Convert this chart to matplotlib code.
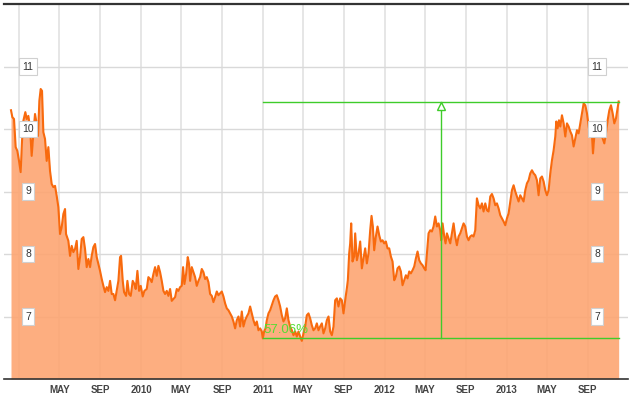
import numpy as np
import matplotlib
matplotlib.use('Agg')
import matplotlib.pyplot as plt
import matplotlib.dates as mdates
import matplotlib.transforms as mtransforms

START = np.datetime64('2009-01-01')

# days after START and closing price
days = [
    -25, -21, -16, -11, -6, -1, 4, 8, 12, 18, 22, 27, 32, 37, 42, 47, 52, 56, 60, 64,
    68, 72, 77, 82, 87, 92, 97, 102, 107, 112, 117, 122, 127, 132, 137, 140, 147, 152, 157, 162,
    167, 172, 177, 182, 187, 192, 197, 202, 207, 212, 217, 222, 227, 232, 237, 242, 247, 252, 257, 262,
    267, 272, 277, 282, 287, 292, 297, 302, 305, 310, 314, 320, 324, 329, 334, 340, 345, 349, 354, 359,
    364, 370, 375, 382, 387, 392, 397, 402, 407, 412, 417, 422, 427, 432, 437, 442, 447, 452, 457, 462,
    467, 472, 477, 482, 487, 491, 495, 500, 505, 509, 512, 517, 522, 527, 532, 537, 542, 547, 552, 557,
    562, 567, 572, 577, 582, 587, 592, 597, 602, 607, 612, 617, 622, 627, 632, 637, 642, 647, 652, 657,
    662, 667, 672, 677, 682, 687, 692, 697, 702, 707, 712, 717, 722, 727, 730, 734, 738, 742, 747, 752,
    757, 762, 767, 772, 777, 782, 787, 792, 797, 802, 807, 812, 817, 822, 827, 832, 837, 842, 847, 852,
    857, 862, 867, 872, 877, 882, 887, 892, 897, 902, 907, 912, 917, 922, 927, 932, 937, 942, 947, 952,
    957, 962, 967, 972, 977, 982, 985, 989, 992, 995, 999, 1004, 1007, 1012, 1017, 1022, 1027, 1032, 1037, 1042,
    1047, 1052, 1056, 1060, 1064, 1069, 1074, 1079, 1084, 1089, 1094, 1099, 1104, 1109, 1114, 1119, 1124, 1129, 1134, 1139,
    1144, 1149, 1154, 1159, 1164, 1169, 1174, 1179, 1184, 1189, 1194, 1199, 1204, 1209, 1214, 1218, 1222, 1227, 1232, 1237,
    1242, 1247, 1252, 1257, 1262, 1265, 1269, 1274, 1278, 1282, 1287, 1292, 1297, 1302, 1307, 1312, 1317, 1322, 1327, 1332,
    1337, 1342, 1347, 1352, 1357, 1362, 1367, 1372, 1377, 1382, 1387, 1392, 1397, 1402, 1407, 1412, 1417, 1422, 1427, 1432,
    1437, 1442, 1447, 1452, 1457, 1462, 1467, 1472, 1477, 1482, 1487, 1492, 1497, 1502, 1507, 1512, 1517, 1522, 1527, 1532,
    1537, 1542, 1547, 1552, 1557, 1562, 1567, 1572, 1577, 1582, 1587, 1592, 1597, 1602, 1607, 1610, 1614, 1618, 1622, 1627,
    1632, 1637, 1642, 1647, 1652, 1657, 1662, 1667, 1672, 1677, 1682, 1687, 1692, 1697, 1702, 1707, 1712, 1717, 1720, 1724,
    1729, 1734, 1739, 1744, 1749, 1754, 1759, 1764, 1769, 1774, 1779, 1784, 1789, 1793, 1797,
]
closes = [
    10.30, 10.19, 10.16, 9.71, 9.65, 9.49, 9.31, 9.81, 10.13, 10.27, 10.16, 10.21, 10.03, 9.57, 9.92, 10.24, 10.08, 9.89, 10.45, 10.64,
    10.61, 9.95, 9.84, 9.49, 9.71, 9.33, 9.12, 9.07, 9.09, 8.93, 8.75, 8.32, 8.43, 8.64, 8.72, 8.32, 8.21, 7.97, 8.13, 8.03,
    8.08, 8.21, 7.76, 7.95, 8.24, 8.27, 8.08, 7.79, 7.92, 7.79, 7.97, 8.11, 8.16, 7.95, 7.84, 7.73, 7.60, 7.49, 7.39, 7.47,
    7.41, 7.57, 7.36, 7.36, 7.26, 7.41, 7.57, 7.95, 7.97, 7.57, 7.39, 7.33, 7.57, 7.36, 7.33, 7.57, 7.52, 7.44, 7.73, 7.41,
    7.49, 7.32, 7.41, 7.44, 7.63, 7.60, 7.55, 7.68, 7.79, 7.65, 7.81, 7.71, 7.57, 7.41, 7.36, 7.41, 7.33, 7.44, 7.25, 7.28,
    7.31, 7.44, 7.41, 7.47, 7.49, 7.79, 7.52, 7.68, 7.95, 7.84, 7.57, 7.79, 7.71, 7.63, 7.49, 7.57, 7.63, 7.76, 7.71, 7.60,
    7.63, 7.55, 7.36, 7.33, 7.23, 7.31, 7.40, 7.34, 7.37, 7.40, 7.32, 7.21, 7.13, 7.10, 7.05, 7.00, 6.92, 6.81, 6.94, 7.00,
    6.84, 7.08, 6.84, 6.94, 7.00, 7.05, 7.16, 7.05, 6.94, 6.86, 6.92, 6.78, 6.81, 6.76, 6.65, 6.76, 6.81, 6.94, 7.05, 7.10,
    7.18, 7.26, 7.32, 7.34, 7.26, 7.16, 7.02, 6.92, 6.97, 7.13, 6.94, 6.84, 6.78, 6.70, 6.76, 6.68, 6.76, 6.68, 6.61, 6.73,
    6.84, 7.02, 7.05, 6.97, 6.86, 6.78, 6.81, 6.89, 6.78, 6.84, 6.89, 6.73, 6.81, 6.94, 7.00, 6.76, 6.70, 6.84, 7.26, 7.29,
    7.16, 7.29, 7.26, 7.05, 7.26, 7.45, 7.58, 8.01, 8.17, 8.49, 7.88, 7.96, 8.33, 7.90, 8.01, 8.20, 7.77, 7.93, 8.09, 7.85,
    8.01, 8.38, 8.61, 8.44, 8.06, 8.28, 8.44, 8.30, 8.20, 8.22, 8.17, 8.20, 8.09, 8.09, 7.96, 7.88, 7.58, 7.64, 7.77, 7.80,
    7.72, 7.50, 7.58, 7.66, 7.61, 7.72, 7.69, 7.74, 7.80, 7.93, 8.04, 7.90, 7.85, 7.82, 7.77, 7.74, 8.01, 8.33, 8.38, 8.36,
    8.44, 8.60, 8.44, 8.49, 8.38, 8.22, 8.49, 8.28, 8.17, 8.33, 8.25, 8.17, 8.33, 8.49, 8.28, 8.14, 8.28, 8.33, 8.41, 8.49,
    8.44, 8.28, 8.22, 8.28, 8.30, 8.28, 8.38, 8.89, 8.78, 8.73, 8.81, 8.68, 8.81, 8.70, 8.68, 8.92, 8.96, 8.89, 8.78, 8.81,
    8.73, 8.62, 8.57, 8.52, 8.46, 8.57, 8.65, 8.84, 9.02, 9.10, 9.00, 8.92, 8.84, 8.94, 8.89, 8.84, 9.02, 9.13, 9.18, 9.29,
    9.34, 9.29, 9.26, 9.18, 8.94, 9.21, 9.24, 9.16, 9.02, 8.94, 9.02, 9.29, 9.50, 9.66, 9.88, 10.12, 10.01, 10.14, 10.04, 10.22,
    10.09, 9.88, 10.09, 10.04, 9.96, 9.90, 9.72, 9.85, 9.98, 9.93, 10.09, 10.25, 10.41, 10.38, 10.25, 10.04, 9.88, 9.90, 9.61, 9.88,
    9.98, 10.06, 9.96, 9.93, 9.85, 9.77, 9.93, 10.14, 10.30, 10.38, 10.25, 10.09, 10.17, 10.30, 10.44,
]

y_ticks = [7, 8, 9, 10, 11]
x_tick_dates = ['2009-01-01', '2009-05-01', '2009-09-01', '2010-01-01', '2010-05-01', '2010-09-01',
                '2011-01-01', '2011-05-01', '2011-09-01', '2012-01-01', '2012-05-01', '2012-09-01',
                '2013-01-01', '2013-05-01', '2013-09-01']
x_tick_labels = ['', 'MAY', 'SEP', '2010', 'MAY', 'SEP', '2011', 'MAY', 'SEP',
                 '2012', 'MAY', 'SEP', '2013', 'MAY', 'SEP']

# measurement: from the Jan 2011 low to the last close
measure_from = 730
measure_arrow_at = 1265
measure_label = '57.06%'

LINE_COLOR = '#F86A0E'
FILL_COLOR = '#FDA572'
GREEN = '#3FCC2A'
FONT = ['Liberation Sans', 'DejaVu Sans']


def to_num(d):
    return mdates.date2num(START + np.array(d, dtype='timedelta64[D]'))


def main():
    plt.rcParams['font.family'] = FONT

    fig = plt.figure(figsize=(6.32, 3.98), dpi=100)
    ax = fig.add_axes([4 / 632, 19 / 398, 624 / 632, 375 / 398])

    x = to_num(days)
    y = np.array(closes)

    ax.fill_between(x, y, 6, color=FILL_COLOR, alpha=0.9, lw=0, zorder=2)
    ax.plot(x, y, color=LINE_COLOR, lw=1.5, zorder=3)

    ax.set_ylim(6, 12)
    ax.set_xlim(to_num(-46), to_num(1825))

    # grid
    xt = mdates.date2num(np.array(x_tick_dates, dtype='datetime64[D]'))
    ax.set_xticks(xt)
    ax.set_xticklabels(x_tick_labels, fontsize=7, fontweight='bold', color='#444444')
    ax.tick_params(axis='x', length=0, pad=4)
    ax.set_yticks(y_ticks)
    ax.set_yticklabels([])
    ax.tick_params(axis='y', length=0)
    ax.grid(axis='x', color='#e4e4e4', lw=1.3, zorder=0)
    ax.grid(axis='y', color='#d9d9d9', lw=1.0, zorder=0)
    ax.set_axisbelow(True)

    for side in ['left', 'right']:
        ax.spines[side].set_visible(False)
    ax.spines['top'].set_color('#333333')
    ax.spines['top'].set_linewidth(1.6)
    ax.spines['bottom'].set_color('#333333')
    ax.spines['bottom'].set_linewidth(1.2)

    # y labels in little boxes on both sides
    trans = mtransforms.blended_transform_factory(ax.transAxes, ax.transData)
    for v in y_ticks:
        for xpos in [0.0385, 0.9505]:
            ax.text(xpos, v, str(v), transform=trans, ha='center', va='center',
                    fontsize=7.5, color='#333333', zorder=5,
                    bbox=dict(boxstyle='square,pad=0.3', fc='white', ec='#d0d0d0', lw=0.8))

    # measurement lines
    i0 = days.index(measure_from)
    lo = closes[i0]
    hi = closes[-1]
    x0 = to_num(measure_from)
    x1 = to_num(days[-1])
    xa = to_num(measure_arrow_at)
    ax.plot([x0, x1], [lo, lo], color=GREEN, lw=1.0, zorder=4)
    ax.plot([x0, x1], [hi, hi], color=GREEN, lw=1.0, zorder=4)
    ax.plot([xa, xa], [lo, hi], color=GREEN, lw=1.0, zorder=4)
    tri = mtransforms.offset_copy(ax.transData, fig=fig, x=0, y=-3, units='points')
    ax.plot([xa], [hi], marker='^', ms=5.5, mfc='white', mec=GREEN, mew=1.0,
            transform=tri, zorder=5)
    ax.text(x0 + 2, lo + 0.04, measure_label, color='#55DD33', fontsize=9.5,
            ha='left', va='bottom', zorder=5)

    fig.savefig('out.png', dpi=100)


if __name__ == "__main__":
    main()
